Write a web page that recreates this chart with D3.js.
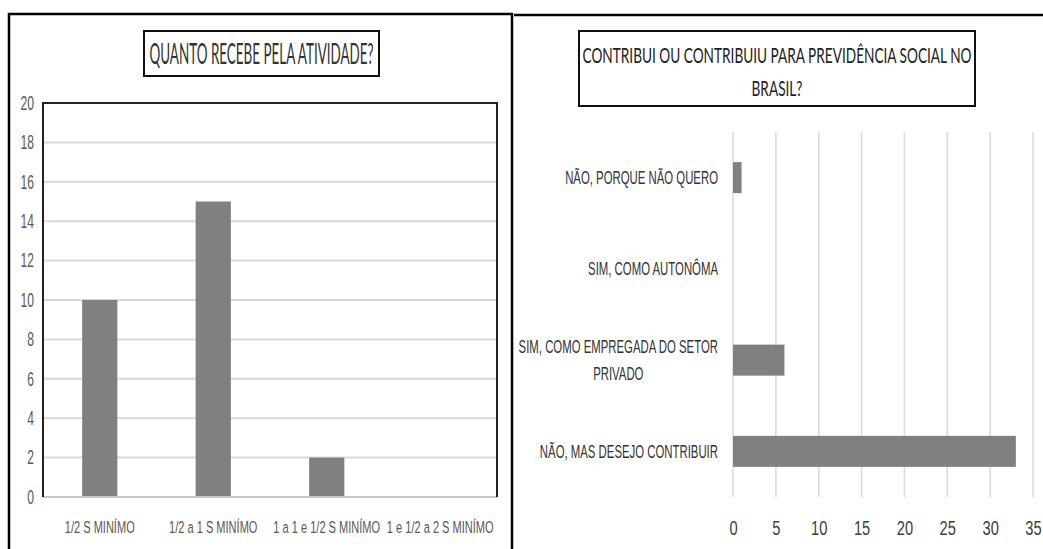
<!DOCTYPE html>
<html>
<head>
<meta charset="utf-8">
<script src="https://cdn.jsdelivr.net/npm/d3@7"></script>
<style>
  html, body { margin: 0; padding: 0; background: #fff; }
  svg { display: block; font-family: Lato, "Open Sans", sans-serif; }
</style>
</head>
<body>
<svg id="chart" width="1043" height="549"></svg>
<script>
// Left panel: income from the activity
const incomeTitle = "QUANTO RECEBE PELA ATIVIDADE?";
const incomeCategories = ["1/2 S MINÍMO", "1/2 a 1 S MINÍMO", "1 a 1 e 1/2 S MINÍMO", "1 e 1/2 a 2 S MINÍMO"];
const incomeValues = [10, 15, 2, 0];
const incomeTicks = [0, 2, 4, 6, 8, 10, 12, 14, 16, 18, 20];

// Right panel: social security contribution
const pensionTitle = ["CONTRIBUI OU CONTRIBUIU PARA PREVIDÊNCIA SOCIAL NO", "BRASIL?"];
const pensionCategories = ["NÃO, PORQUE NÃO QUERO", "SIM, COMO AUTONÔMA", "SIM, COMO EMPREGADA DO SETOR PRIVADO", "NÃO, MAS DESEJO CONTRIBUIR"];
const pensionValues = [1, 0, 6, 33];
const pensionTicks = [0, 5, 10, 15, 20, 25, 30, 35];

const BAR = "#808080";
const GRID = "#d9d9d9";
const svg = d3.select("#chart");

// place a horizontally squeezed text element at (x, y)
function label(g, txt, x, y, opts) {
  return g.append("text")
    .attr("transform", `translate(${x},${y}) scale(${opts.k},1)`)
    .attr("text-anchor", "middle")
    .attr("dy", "0.36em")
    .attr("font-size", opts.size)
    .attr("fill", opts.color)
    .text(txt);
}

/* ---------------- left panel ---------------- */
const L = svg.append("g");
L.append("rect").attr("x", 9).attr("y", 14).attr("width", 503).attr("height", 560)
  .attr("fill", "none").attr("stroke", "#000").attr("stroke-width", 2.5);

L.append("rect").attr("x", 144).attr("y", 31).attr("width", 235).attr("height", 45)
  .attr("fill", "#fff").attr("stroke", "#111").attr("stroke-width", 2);
label(L, incomeTitle, 261.5, 54, { size: 28, k: 0.48, color: "#333" });

const xL = d3.scaleBand().domain(incomeCategories).range([43, 497])
  .paddingInner(0.69).paddingOuter(0.345);
const yL = d3.scaleLinear().domain([0, 20]).range([497, 103]);

// horizontal gridlines
L.append("g").selectAll("line").data(incomeTicks.filter(t => t > 0 && t < 20)).join("line")
  .attr("x1", 43).attr("x2", 497)
  .attr("y1", d => yL(d)).attr("y2", d => yL(d))
  .attr("stroke", GRID).attr("stroke-width", 2);

L.append("g").selectAll("rect").data(incomeValues).join("rect")
  .attr("x", (d, i) => xL(incomeCategories[i]))
  .attr("width", xL.bandwidth())
  .attr("y", d => yL(d))
  .attr("height", d => yL(0) - yL(d))
  .attr("fill", BAR);

// baseline and frame of the plot area
L.append("line").attr("x1", 43).attr("x2", 497).attr("y1", yL(0)).attr("y2", yL(0))
  .attr("stroke", "#c8c8c8").attr("stroke-width", 2);
L.append("path")
  .attr("d", `M43,${yL(0)}V${yL(20)}H497V${yL(0)}`)
  .attr("fill", "none").attr("stroke", "#222").attr("stroke-width", 2);

const yAxisL = L.append("g").attr("transform", "translate(43,0)")
  .call(d3.axisLeft(yL).tickValues(incomeTicks).tickSize(0));
yAxisL.select(".domain").remove();
yAxisL.selectAll("text")
  .attr("x", 0).attr("transform", "translate(-9,0) scale(0.62,1)")
  .attr("font-size", 19.5).attr("font-family", null).attr("fill", "#595959");

const xAxisL = L.append("g").attr("transform", `translate(0,${yL(0)})`)
  .call(d3.axisBottom(xL).tickSize(0).tickPadding(24));
xAxisL.select(".domain").remove();
xAxisL.selectAll("text")
  .attr("transform", "scale(0.65,1)")
  .attr("font-size", 17).attr("font-family", null).attr("fill", "#595959");

/* ---------------- right panel ---------------- */
const R = svg.append("g");
R.append("line").attr("x1", 514).attr("x2", 1043).attr("y1", 15).attr("y2", 15)
  .attr("stroke", "#000").attr("stroke-width", 2.5);

R.append("rect").attr("x", 579).attr("y", 31).attr("width", 396).attr("height", 75)
  .attr("fill", "#fff").attr("stroke", "#111").attr("stroke-width", 2);
pensionTitle.forEach((t, i) => label(R, t, 777, 55 + i * 33, { size: 22, k: 0.62, color: "#222" }));

const xR = d3.scaleLinear().domain([0, 35]).range([733, 1033]);
const yR = d3.scaleBand().domain(pensionCategories).range([132, 497])
  .paddingInner(0.66).paddingOuter(0.33);

R.append("g").selectAll("line").data(pensionTicks).join("line")
  .attr("x1", d => xR(d)).attr("x2", d => xR(d))
  .attr("y1", 132).attr("y2", 497)
  .attr("stroke", GRID).attr("stroke-width", 1.5);

R.append("g").selectAll("rect").data(pensionValues).join("rect")
  .attr("y", (d, i) => yR(pensionCategories[i]))
  .attr("height", yR.bandwidth())
  .attr("x", xR(0))
  .attr("width", d => xR(d) - xR(0))
  .attr("fill", BAR);

const xAxisR = R.append("g").attr("transform", "translate(0,497)")
  .call(d3.axisBottom(xR).tickValues(pensionTicks).tickSize(0).tickPadding(23));
xAxisR.select(".domain").remove();
xAxisR.selectAll("text")
  .attr("transform", "scale(0.7,1)")
  .attr("font-size", 21).attr("font-family", null).attr("fill", "#404040");

// category labels: right aligned, long ones wrapped into a centred block
const KC = 0.65;
const MAXW = 210 / KC;
const yAxisR = R.append("g").attr("transform", `translate(${xR(0)},0)`)
  .call(d3.axisLeft(yR).tickSize(0));
yAxisR.select(".domain").remove();
yAxisR.selectAll("text").each(function () {
  const t = d3.select(this);
  const words = t.text().split(" ");
  t.attr("x", 0).attr("dy", null).attr("font-size", 17.5).attr("font-family", null)
    .attr("fill", "#333").attr("transform", `translate(-15,0) scale(${KC},1)`);
  t.text(null);
  const lines = [];
  let cur = [];
  const probe = t.append("tspan");
  words.forEach(w => {
    probe.text(cur.concat(w).join(" "));
    if (cur.length && probe.node().getComputedTextLength() > MAXW) {
      lines.push(cur.join(" "));
      cur = [w];
    } else cur.push(w);
  });
  lines.push(cur.join(" "));
  probe.remove();
  if (lines.length === 1) {
    t.attr("text-anchor", "end").attr("dy", "0.36em").text(lines[0]);
  } else {
    const widths = lines.map(l => { const s = t.append("tspan").text(l); const w = s.node().getComputedTextLength(); s.remove(); return w; });
    const mw = d3.max(widths);
    const lh = 27 / 17.5;
    t.attr("text-anchor", "middle");
    lines.forEach((l, i) => {
      t.append("tspan").attr("x", -mw / 2)
        .attr("dy", i === 0 ? `${0.36 - (lines.length - 1) * lh / 2}em` : `${lh}em`)
        .text(l);
    });
  }
});
</script>
</body>
</html>
